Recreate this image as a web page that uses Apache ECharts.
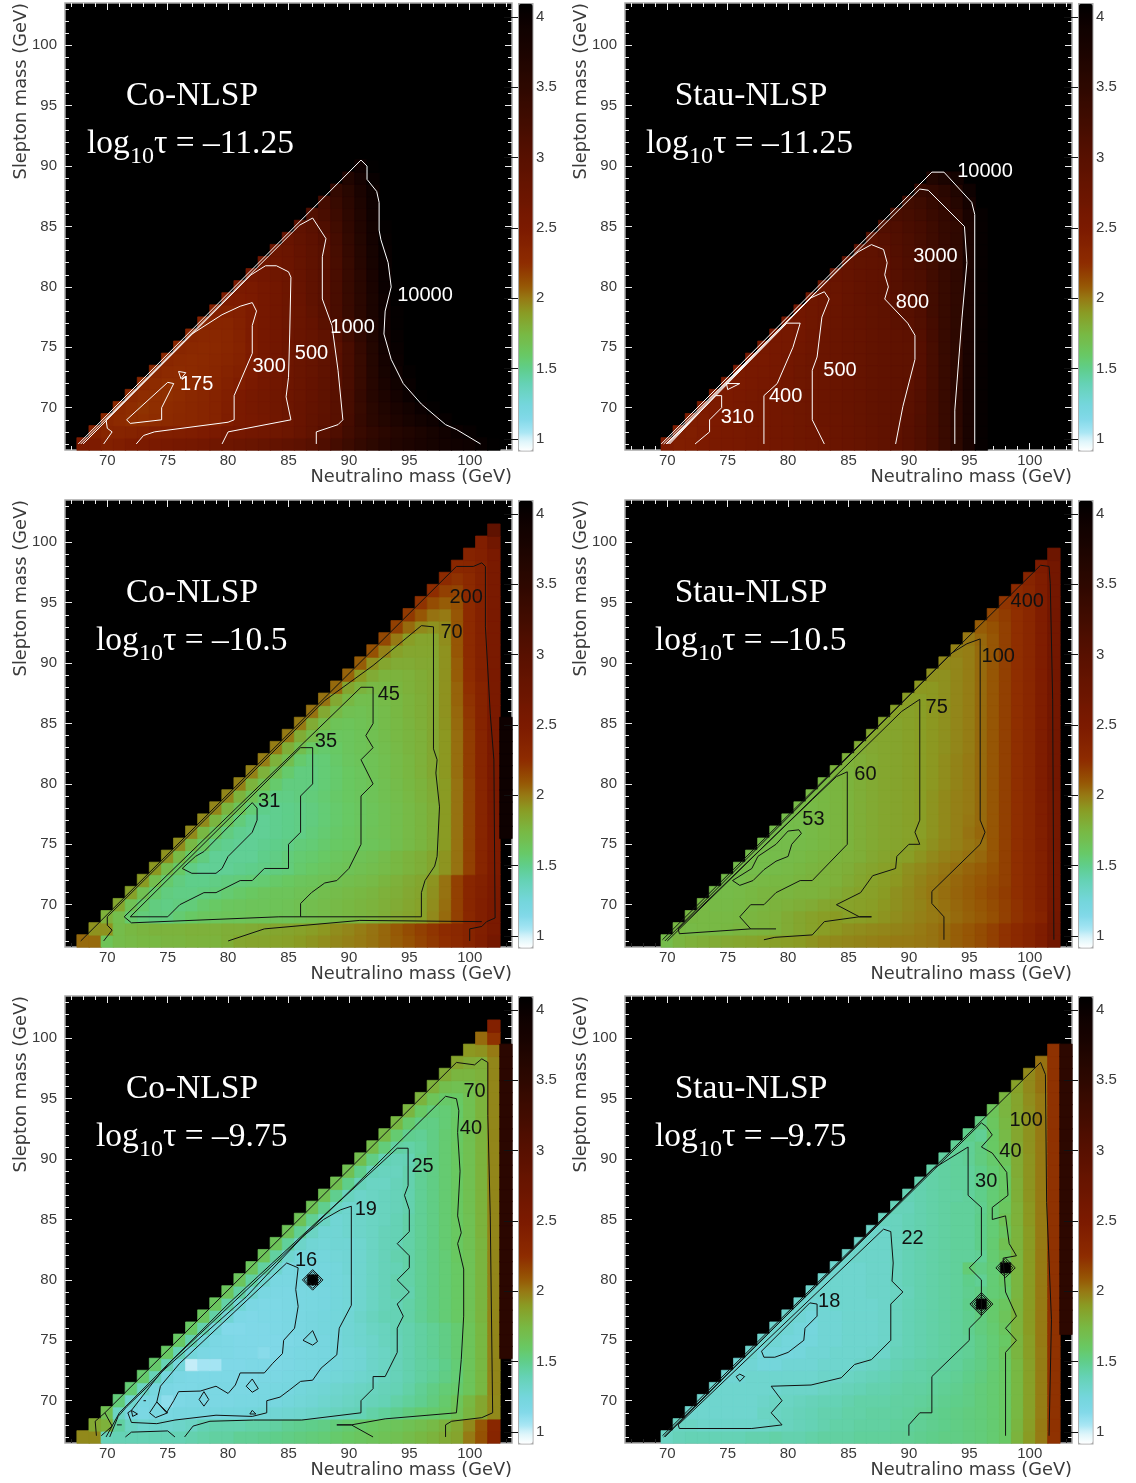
<!DOCTYPE html>
<html><head><meta charset="utf-8">
<script src="https://cdn.jsdelivr.net/npm/echarts@6/dist/echarts.min.js"></script>
<style>html,body{margin:0;background:#fff}#c{width:1136px;height:1483px}</style></head>
<body><div id="c"></div>
<script>
// value of each cell; row i is slepton mass 67+i; a row starts at neutralino mass = slepton + 1 (Co) or + 3 (Stau)
const co1125Rows=[
[300,300,260,280,300,320,340,360,380,400,420,460,500,540,580,640,700,760,840,1000,1300,1700,2200,2800,3400,4000,4800,5500,6200,6800,7400,8200,9000,10500,12000],
[250,220,230,240,250,260,270,280,290,300,340,380,400,420,450,480,520,620,750,1000,1300,1800,2400,3000,3600,4300,5000,5800,6800,8000,9500,11000],
[210,190,175,175,180,190,200,210,220,240,290,330,360,400,450,510,600,720,850,1000,1700,2600,3600,4500,5500,6500,7800,9000,11000],
[195,180,170,175,185,195,205,220,240,280,330,370,410,460,520,600,700,830,1000,1600,2500,3800,5000,6200,7500,9500,11500],
[195,180,175,175,185,200,215,235,270,320,370,410,460,510,590,690,820,1000,1600,2600,4000,5500,7200,9500,12000],
[200,185,175,180,190,205,225,255,290,340,400,450,505,590,680,810,1000,1500,2500,4000,6000,8000,10500],
[205,190,185,190,200,215,235,265,300,390,445,500,580,670,800,1000,1500,2500,4200,6500,9000,11500],
[210,195,190,195,205,220,245,300,380,440,500,580,670,800,1000,1500,2500,4300,7000,10000],
[215,200,195,200,215,240,295,380,440,500,580,670,790,950,1500,2600,4500,7500,10500],
[225,210,205,215,245,300,380,440,500,580,670,800,1100,1800,3000,5000,8000,11000],
[240,225,225,255,300,380,440,500,580,680,950,1400,2200,3400,5500,8500,11500],
[260,250,265,300,380,440,500,590,750,1000,1500,2400,3600,5800,9000,11500],
[300,300,320,380,440,500,600,800,1000,1500,2400,3600,5800,9000,12000],
[330,340,390,440,500,620,800,1000,1500,2500,3800,6000,9500,12000],
[400,420,470,510,640,800,1000,1500,2500,3800,6200,9500],
[480,490,540,660,800,1000,1500,2500,4000,6500,10000],
[520,560,680,820,1000,1600,2600,4200,6800,10500],
[600,720,850,1100,1700,2800,4500,7200,11000],
[780,950,1300,1900,3000,4800,7500,11500],
[1200,1500,2100,3200,5000,8000],
[1700,2400,3500,5500,8500],
[2800,3900,6000,9000],
[5000,7000,10500],
[8500,12000]];
const stau1125Rows=[
[300,280,290,310,330,345,355,380,400,420,445,470,490,510,560,600,650,700,770,850,1000,1200,1600,2300,3400,6000,11000],
[290,280,300,325,345,360,380,400,420,445,470,490,515,560,600,650,700,760,830,1000,1200,1600,2300,3400,6000,11000],
[290,295,315,340,360,380,400,420,445,470,500,540,570,610,660,710,770,830,980,1200,1600,2400,3500,6000,11000],
[300,310,335,355,380,400,425,450,475,500,540,580,620,670,720,780,800,950,1150,1600,2400,3500,6000,11000],
[310,320,345,370,395,415,445,480,500,540,580,620,670,720,770,800,930,1150,1600,2400,3500,6000,11000],
[320,335,360,380,400,440,480,500,540,580,620,670,720,760,790,850,1100,1600,2400,3500,6000,11000],
[340,355,370,390,430,475,500,540,580,620,670,720,760,790,830,1100,1600,2400,3300,6000,11000],
[355,365,385,420,465,505,545,585,625,670,720,760,790,810,1100,1600,2400,3300,6000,11000],
[370,380,405,450,495,545,590,630,675,720,760,790,810,1100,1600,2500,3300,6000,11000],
[390,400,440,485,540,590,630,675,720,770,800,850,1150,1700,2500,3300,6000,11000],
[400,420,470,530,590,640,685,730,790,900,1000,1200,1700,2500,3200,6000,11000],
[440,470,510,580,640,690,740,820,950,1050,1250,1800,2500,3200,6000,11000],
[470,500,570,640,700,770,800,1000,1100,1300,1800,2500,3100,6000,11000],
[530,580,650,700,770,830,1050,1200,1350,1800,2500,3100,6000,11000],
[600,660,720,770,800,1050,1250,1400,1900,2500,3100,6000,11000],
[690,740,780,820,1100,1300,1500,1900,2600,3100,6000,11000],
[770,800,950,1150,1350,1600,2000,2600,3100,6000,11000],
[950,1050,1200,1400,1650,2050,2600,3100,6000,11000],
[1200,1300,1500,1700,2100,2700,3000,6000,11000],
[1500,1650,1900,2300,2800,3400,6000,11000],
[1900,2100,2600,3100,4200,7000],
[2700,3000,3600,5000,9000],
[5000,5800,7500]];
const co105Rows=[
[110,110,45,52,54,56,56,58,58,60,60,60,64,70,72,72,74,76,80,84,88,92,96,100,105,112,120,130,145,160,175,195,230,280,400],
[85,85,52,56,58,60,60,60,62,62,62,64,64,66,68,70,72,74,78,82,88,92,98,104,112,122,135,150,165,185,200,230,270,340],
[62,50,38,35,34,34,37,40,42,43,44,44,45,45,46,46,48,50,52,54,56,58,60,64,68,72,76,90,110,150,210,270,340],
[70,46,38,34,33,34,35,38,40,42,43,44,44,45,46,48,50,52,54,56,58,60,63,66,70,74,88,108,150,215,270,330],
[75,48,38,34,33,33,34,35,37,39,41,43,44,44,46,47,50,52,54,56,58,62,64,68,72,86,105,150,215,260,320],
[80,50,38,34,32,32,33,34,35,36,37,39,41,43,44,46,48,50,52,54,58,62,66,70,84,105,150,215,255,310],
[82,52,40,33,30,30,30,31,32,33,34,35,38,40,42,44,46,48,50,53,56,60,64,70,84,105,150,220,300],
[85,54,40,34,30,30,30,30,32,33,35,37,38,40,42,44,46,48,52,56,60,64,70,84,105,150,220,300],
[88,55,42,33,31,30,30,31,32,33,35,36,38,40,41,43,44,46,50,54,58,64,80,105,150,225,300],
[90,56,42,34,31,30,30,31,32,33,35,37,39,41,43,45,47,50,54,58,64,80,105,150,225,310],
[90,58,44,35,31,30,31,32,33,34,36,38,40,42,44,47,50,54,58,64,80,105,150,225,320],
[92,58,45,36,32,31,32,33,34,36,38,40,42,44,47,50,54,58,64,80,105,150,225,330],
[92,60,46,38,33,33,34,35,37,39,41,43,45,48,51,55,60,65,80,105,150,225,340],
[95,60,48,38,34,34,34,36,38,41,43,45,48,52,56,60,66,80,105,150,225,340],
[95,62,48,38,34,34,36,38,41,43,46,49,53,57,62,68,82,108,155,230,340],
[98,62,50,38,35,36,39,42,44,46,49,53,57,62,68,82,108,155,230,340],
[98,64,50,40,38,40,43,45,47,50,54,58,62,68,82,108,155,230,340],
[100,65,52,43,42,43,45,48,51,55,58,62,68,82,108,155,230,340],
[100,66,52,45,44,46,48,52,55,59,63,68,84,110,160,235,340],
[105,68,54,48,47,49,52,56,60,64,68,85,112,165,240,340],
[105,68,56,50,50,53,56,60,64,68,85,115,170,240,330],
[110,70,60,55,55,58,62,65,68,85,115,175,240,330],
[115,80,66,60,60,62,65,68,85,120,180,250,330],
[120,85,70,66,66,68,68,85,120,185,250,330],
[130,95,75,70,70,70,85,125,190,250,330],
[140,100,78,72,72,88,125,190,250,330],
[150,110,90,85,90,125,190,250,330],
[160,125,105,100,125,190,250,330],
[170,135,120,130,190,250,330],
[180,150,145,190,250,330],
[190,170,195,250,330],
[210,215,255,330],
[240,260,340],
[280,450],
[800]];
const stau105Rows=[
[52,58,62,64,66,68,70,72,74,76,78,80,84,88,90,92,94,96,98,100,100,102,104,110,118,125,135,150,170,195,230,290,450],
[56,54,55,55,56,58,59,60,62,66,70,74,78,82,86,88,90,92,94,96,100,104,110,118,125,135,150,170,195,230,290,450],
[56,55,55,55,56,58,60,62,66,70,74,78,80,76,78,80,84,88,92,96,100,104,110,116,122,132,150,170,195,240,420],
[55,54,54,55,57,58,60,62,64,66,70,72,74,76,78,82,86,90,94,100,106,112,118,125,135,150,170,200,250,400],
[53,53,54,56,58,58,58,60,60,62,66,70,74,76,80,86,90,96,102,108,114,120,128,140,155,175,205,260,400],
[52,52,54,55,56,56,58,60,60,62,66,70,74,78,82,88,94,100,106,112,118,125,135,150,175,205,260,400],
[52,52,52,53,54,56,58,60,62,64,68,72,76,80,86,90,96,102,108,114,120,130,150,175,205,260,400],
[52,52,52,53,54,56,58,60,62,64,68,72,75,78,84,90,96,100,106,112,125,150,175,205,265,400],
[52,52,52,53,54,56,58,60,64,67,70,72,75,80,86,92,96,102,108,125,150,175,205,270,400],
[52,51,52,54,56,58,60,64,67,70,72,74,78,84,90,96,104,112,125,150,175,205,275,400],
[52,52,54,56,58,60,64,67,70,72,75,78,84,90,96,102,110,125,150,175,205,280,400],
[54,54,56,58,60,64,67,70,72,75,78,84,90,96,100,110,125,150,175,205,285,400],
[55,56,58,60,64,67,70,72,75,78,84,90,96,100,110,125,150,175,205,290,400],
[56,58,60,64,67,70,72,75,78,82,88,94,100,110,125,150,175,205,290,420],
[60,60,64,67,70,72,75,78,82,88,94,100,110,125,150,175,205,290,430],
[62,64,67,70,72,75,78,82,88,94,100,110,125,150,175,205,290,430],
[66,68,70,72,75,78,82,86,92,98,110,125,150,175,205,290,430],
[70,70,72,75,78,82,86,92,98,110,125,150,175,205,290,430],
[72,72,75,78,82,86,92,98,110,125,150,175,205,290,430],
[75,75,78,82,86,92,98,110,125,150,175,205,290,430],
[78,78,82,86,92,98,110,125,150,175,205,290,430],
[82,82,86,92,98,110,125,150,175,205,290,430],
[86,86,92,98,110,125,150,175,205,290,430],
[90,92,98,110,125,150,175,205,290,430],
[95,98,110,125,150,175,205,290,430],
[102,112,125,150,175,205,290,430],
[120,130,150,175,205,290,430],
[140,155,175,205,290,430],
[165,180,210,290,430],
[190,215,290,430],
[230,290,430],
[300,430],
[500]];
const co975Rows=[
[90,90,24,25,25,25,25,25,25,26,27,28,28,30,30,31,32,33,34,35,36,38,40,42,44,46,48,52,56,60,66,72,100,130,220],
[68,62,28,22,20,20,20,21,22,25,26,26,26,27,27,28,30,31,32,33,35,37,39,41,43,44,47,50,54,60,68,90,125,210],
[48,22,17,15.5,16,16,17,17,17,17,17.5,17.5,18,18.5,19,19.5,20,21,22,23,24,25,27,29,31,34,37,38,40,46,58,70,90],
[35,20,16,15.5,13,15,15.5,15.5,15.5,15.5,16,16,16.5,17,18,18.5,19,20,21,22,23,24,25,27,29,31,34,38,44,56,70,90],
[36,22,17,15.5,15,15,15.5,15.5,15.5,15.5,15.5,16,16.5,17,18,18.5,19,20,21,22,23,24,25,27,30,33,36,38,44,56,92],
[38,24,17.5,15.5,15,15,15,15,15,15,15.5,15.5,16,16.5,17,18,18.5,19,20,21,23,24,26,28,30,33,36,44,56,92],
[38,25,18,10.5,11.5,11.5,14.5,14.5,15,15,15,15.5,16,16.5,17,18,18.5,19,21,22,24,26,28,29,32,36,44,56,92],
[40,25,18,15.5,15,15,14.5,14.5,13.5,14.5,15.5,16,16.5,17,18,18.5,19,21,22,24,26,28,30,33,37,44,56,92],
[40,26,18,15.5,15,14.5,14.5,14.5,14.5,15,15.5,17,17,18,19,20,21,23,24,26,28,30,33,37,44,56,92],
[40,26,18,14,14,14.5,14.5,15,15.5,16,17,17.5,18,19,20,22,23,25,26,28,30,33,37,44,56,92],
[42,27,19,15,14.5,15,15,15.5,16,17,17.5,18,19,21,23,25,25,27,30,33,36,40,46,58,92],
[42,27,19,15.5,15,15,15.5,16,16.5,17,18,18.5,20,22,24,25,27,30,33,36,40,46,58,92],
[43,28,20,16,15.5,15.5,16,16.5,17,18,18.5,20,22,24,26,26,30,33,36,40,46,58,92],
[43,28,20,16,16,16.5,0,17.5,18,18.5,20,22,24,26,27,30,33,36,40,46,58,92],
[43,28,20,16.5,17,17,17.5,18,19,20,22,24,25,27,30,33,36,40,46,58,92],
[44,28,20,18,18,18,18.5,19,20,22,24,26,27,30,33,36,41,46,58,92],
[44,29,21,19,18.5,19,19,20,22,24,25,27,30,33,37,41,47,58,92],
[45,30,22,19,19,20,21,22,24,25,27,30,33,37,41,47,60,92],
[46,30,22,19,20,21,22,23,25,27,30,33,37,41,47,60,92],
[46,31,22,20,20.5,22,23,24,26,30,33,37,41,48,60,92],
[47,31,23,21,22,23,24,26,30,33,37,41,48,60,92],
[48,32,24,22,22,24,26,30,33,37,41,48,60,92],
[48,32,24,23,23,26,30,33,37,41,48,60,92],
[50,33,25,24,25,30,33,37,41,48,60,92],
[52,35,28,27,29,33,37,41,48,60,92],
[54,37,31,30,33,37,40,48,60,92],
[56,38,33,33,36,40,48,60,92],
[58,40,35,36,39,48,60,92],
[60,44,39,40,48,60,92],
[62,50,48,50,60,92],
[66,58,58,62,92],
[72,66,64,92],
[82,85,100],
[110,170],
[260]];
const stau975Rows=[
[22,24,25,25,25,25,25,26,26,27,26,26,27,28,28,28,29,29,29,29.5,30,31,32,33,33,34,35,37,40,60,80,100,170],
[22,22,21,21,21,21,21,21,22,23,24,25,26,27,27,28,28,28,29,29,30,31,32,33,34,35,37,40,58,78,100,170],
[20,20,20,20,20,20,22,22,23,24,25,26,26,27,27,28,28,28,29,30,31,32,33,34,35,37,40,56,76,98,170],
[20,20,20,20,20,21,22,22,23,24,25,25,26,27,27,27,28,28,29,30,31,32,33,35,37,40,56,76,98,170],
[20,20,20,20,20,20,21,21,21,22,23,24,25,26,26,27,28,28,29,30,31,33,35,37,40,56,76,98,170],
[19,19,20,20,20,20,20,20,21,21,22,23,24,25,26,27,27,28,29,30,32,34,37,40,56,76,98,170],
[19,19,18,18,19,19,19,20,20,20,21,22,23,25,26,27,28,28,29,31,33,36,40,56,76,98,170],
[20,18,18,17.5,18,19,19,20,20,20,21,21,24,25,26,27,28,29,30,33,36,42,58,78,98,170],
[20,19,18,17.5,18,19,19,20,20,20,21,23,25,26,27,28,29,30,33,36,40,58,78,100,170],
[20,19,18,17.5,19,19,20,20,20,21,23,25,26,27,28,29,31,34,37,42,60,80,100,170],
[20,19,18,19,19,20,20,20,21,23,25,26,27,28,29,31,34,38,44,60,80,100,170],
[20,19,19,20,20,20,20,21,23,25,26,27,28,29,32,0,38,42,60,80,100,170],
[20,20,20,20,20,21,21,22,24,26,27,28,29,31,33,36,38,58,80,100,170],
[20,20,20,20,21,21,23,25,26,27,28,29,32,30,36,40,58,80,100,170],
[20,20,20,21,21,23,25,26,27,28,29,36,33,36,0,58,80,100,170],
[21,21,21,21,23,25,26,27,28,29,29,30,37,42,58,80,100,170],
[21,21,21,23,25,26,27,28,29,29,32,37,48,60,80,100,170],
[21,21,23,25,26,27,28,29,29,32,36,42,60,80,100,170],
[23,23,25,26,27,28,29,29,32,36,46,62,82,100,170],
[24,24,26,27,28,29,29,31,36,42,62,82,100,170],
[25,26,27,28,28,29,32,36,40,64,84,100,170],
[26,27,28,29,29,32,36,40,64,84,100,170],
[27,28,29,29,32,36,40,66,84,100,170],
[28,29,30,34,38,44,66,84,100,170],
[30,30,34,40,50,68,85,100,170],
[32,30,40,54,70,85,100,170],
[34,42,56,70,85,100,170],
[44,58,72,86,100,170],
[58,72,88,100,170],
[75,90,105,170],
[90,105,170],
[105,170],
[170]];
// extra column at neutralino mass 103: [first slepton, last slepton, value]
const co105Edge=[76,85,9000];
const co975Edge=[74,99,3500];
const stau975Edge=[76,99,3300];

// contour lines [neutralino, slepton]
const co1125Lines=[
[[67.6,67],[91,90.5],[91.5,90],[91.5,88.9],[92.3,87.9],[92.5,87],[92.5,84.7],[92.65,83.9],[93.25,82],[93.5,80],[93,78],[92.9,76.1],[93.5,74],[94.5,72],[96,70.3],[98,68.6],[98.9,68.2],[100.9,67]],
[[67.8,67],[85.9,85.1],[87,85.7],[88.1,84],[87.8,82.5],[87.8,79],[88.6,76.8],[89.1,73.1],[89.5,69],[89.1,68.6],[87.3,68],[87.3,67]],
[[68,67],[81.9,81],[83.1,81.75],[84,81.75],[85,81.25],[85.2,80.8],[85.1,76.1],[85,72.5],[84.8,70.9],[85.2,69],[80,68],[79.5,67]],
[[69.7,67],[70.4,68],[70,68.3],[69.9,69],[77,76.1],[79.5,77.7],[81,78.4],[82,78.7],[82.35,78],[82,76.8],[82,74.5],[80.5,71],[80.5,69],[80,68.8],[73.9,68],[73,67.7],[72.4,67]],
[[75,72.1],[75.5,72],[74.5,70],[74.5,69],[71.9,68.7],[71.6,69],[75,72.1]],
[[75.9,73],[76.5,72.9],[76.1,72.4],[75.9,73]]];
const stau1125Lines=[
[[69.5,67],[91.9,89.5],[92.9,89.5],[95.2,87],[95.45,86],[95.45,67]],
[[69.7,67],[90.9,88.1],[91.6,88],[94.6,85],[94.8,82],[94.4,77.5],[93.8,69.8],[93.8,67]],
[[69.9,67],[84.4,81.7],[85.8,82.9],[86.9,83.5],[87.9,83.1],[88.2,82],[88,81],[88.3,80],[88,79],[89.9,77],[90.5,76],[90.5,74],[89.5,70.1],[88.9,67]],
[[70,67],[81.9,79.1],[83,79.6],[83.4,79],[82.8,77.5],[82.4,74.2],[82,73.1],[82,69],[83,67]],
[[70.1,67],[79.9,77],[81,77],[80.4,75],[79.1,72],[78,71],[78,67]],
[[70.2,67],[74,71],[74.5,71],[74.5,70],[73.5,69],[73.5,68],[72.3,67]],
[[74.9,72],[76,72],[75,71.5],[74.9,72]]];
const co105Lines=[
[[67.8,67],[98.9,98],[100.3,98],[101,98.3],[101.3,98],[101.3,93],[101.7,85.8],[102,82],[102.1,68.9],[101.4,68.6],[101,68.2],[100,68],[100,67]],
[[69.7,67],[70.4,67.9],[70,68.3],[70,69],[88,86.9],[92,89.8],[96,93.1],[97,93],[97,82.9],[97.3,82],[97.2,80.9],[97.5,78.1],[97.3,74],[97.1,73.2],[96.3,72],[96,71],[96,69],[86,69]],
[[91,88],[92,88],[92,85],[91.4,84],[92,83],[91,82],[92,80],[91,79],[91,75],[90,73],[89,72],[88,71.8],[86.9,71],[86,70.1],[86,69],[84.2,69],[72,68.5],[71.4,69],[91,88]],
[[71.9,69],[75,69],[76,70],[78,71],[79,71],[81,72],[82,72],[83,73],[85,73],[85,75],[86,76],[86,79],[87,80],[87,83],[86,83],[71.9,69]],
[[82,78.45],[82.4,78],[82.4,77],[82,76],[80,74],[79.5,73],[79,72.6],[77,72.6],[76.2,73],[77.3,74],[78,74.4],[82,78.45]],
[[80,67],[83,68],[90.9,68.7],[101,68.6]]];
const stau105Lines=[
[[69.6,67.1],[100.9,98.1],[101.6,98],[101.7,96.6],[101.9,87],[102,67.1]],
[[69.8,67],[93.5,90.8],[94.8,91.6],[95.9,92],[95.9,77],[96.3,76],[95.9,75],[91.9,71.1],[91.9,70.1],[92.9,69],[92.9,67.1]],
[[70,67],[89.4,86],[90.9,87],[90.9,77],[90.5,76],[90.9,75],[90,75],[89,74],[88.9,73],[87,72.4],[86,71],[84,70],[85.9,69],[86.9,69],[85.9,69],[83,68.6],[82,67.5],[78.9,67.3],[78,67.1]],
[[71,67.6],[70.9,68],[82,78.7],[84,80.6],[84.9,81],[84.9,75],[82,72],[81,72],[79,71],[78,70],[76.9,70],[76,69],[76.9,68],[71,67.6]],
[[76.9,68],[79,68]],
[[80,76.1],[80.9,76.2],[81.1,75.9],[80.3,75],[80,74],[79,73.6],[78,72.9],[77.1,72],[76,71.6],[75.4,72],[77,73],[77.5,74],[79,75],[80,76.1]]];
const co975Lines=[
[[69.1,67.1],[69,68.3],[69.8,69],[70.4,67.9],[69.5,67.1]],
[[69.8,69],[98.9,98],[100.4,97.8],[101,98.3],[101.5,98],[101.5,93.6],[101.7,85.3],[101.9,69],[101,68.6],[98.5,68.3],[98,68],[98,67]],
[[69.9,67],[71,69],[80,78],[89.4,86.7],[98,95.2],[98.9,95],[99.1,94],[99,92.2],[99.2,89],[99,85.3],[99.3,83.9],[99,83],[99.5,80.9],[99.5,77],[99.3,73.4],[98.9,69],[93,68.5],[90.2,68],[89,68],[90.2,68],[92,67]],
[[70.2,67],[70.9,68.7],[71.6,69.5],[74.1,71.9],[75.2,73.2],[84,81.5],[89,86.3],[94,90.9],[94.9,90.9],[94.9,87.8],[94.6,87],[95,85.8],[95,84],[94,83],[95,82],[95,81],[94,80],[95,79],[94,78],[94.5,77],[94,76],[94,74],[93,72],[92,72],[92,71],[91,70],[91,69],[86.1,68.4],[82.1,68.4],[78.5,68.3],[77.1,67.9],[76.4,67]],
[[90.2,86.1],[89.3,85.8],[87.9,85],[86.2,83.6],[81.5,78.6],[74.4,72.3],[72,69.2],[71.7,69],[72,68.2],[74.1,68.1],[75.6,68.4],[79,68.8],[82,68.7],[83.2,69],[83.2,70],[84.3,70.3],[85.1,70.9],[86,71.6],[87,71.7],[87.7,72.7],[89,73.8],[89.2,76],[90.2,77.9],[90.2,86.1]],
[[84.85,81.4],[85.8,81],[85.6,79.2],[85.8,77.8],[85.5,76],[84.6,75],[84.5,73.9],[83.7,73.1],[83,72.3],[81,72.3],[80.6,71.3],[80,70.6],[79,71.2],[77.7,70.8],[75.9,70.75],[75.5,70],[74.9,69],[74.1,69.9],[74.4,71.2],[76,73.1],[84.85,81.4]],
[[73.5,69],[74.1,69.9],[75,69],[74,68.6],[73.5,69]],
[[78,70.75],[78.4,70.1],[78,69.55],[77.6,70.1],[78,70.75]],
[[82,71.8],[82.5,71],[82,70.7],[81.5,71.2],[82,71.8]],
[[82,69.2],[82.3,68.9],[81.8,68.9],[82,69.2]],
[[87,75.8],[87.4,74.9],[87,74.6],[86.2,75],[87,75.8]],
[[72,69.2],[72.5,68.9],[72.1,68.7],[72,69.2]],
[[70.8,68],[71.2,68]],
[[73,70],[73.2,70]],
[[71.5,67],[72,67.4],[75,67.5],[75.6,67]],
[[86.5,80],[87,80.5],[87.5,80],[87,79.5],[86.5,80]],
[[86.3,80],[87,80.7],[87.7,80],[87,79.3],[86.3,80]],
[[86.15,80],[87,80.85],[87.85,80],[87,79.15],[86.15,80]]];
const stau975Lines=[
[[69.6,67.1],[100.9,98],[101.3,97],[101.4,86.4],[101.8,76.7],[101.6,67.1]],
[[69.7,67],[96,93],[96.4,92.7],[96.9,92],[96,91],[96.9,90.5],[98.1,88.9],[98.2,87],[96.9,86],[96.9,85],[98,85.3],[98.3,83],[98.9,82],[97.8,81.8],[98,79],[98.9,77],[98,76],[98.9,75],[98,74],[98,67.1]],
[[69.8,67],[92,89.2],[94.9,91],[94.9,87],[96,86],[96,82],[95,81],[96,80],[96,79],[96,77],[95,76],[95,75],[91.9,72],[91.9,69],[90.9,69],[90,68],[90,67.1]],
[[87.9,84.2],[88.5,84],[88.7,81.4],[88.6,79.9],[89.5,79],[88.5,78],[88.5,75],[86.9,73.4],[85.5,73],[84.4,71.9],[81.9,71.3],[78.6,71.2],[79.5,70],[78.6,69],[79.5,68],[77,67.7],[71,67.7],[70.9,68],[87.9,84.2]],
[[81.8,78.1],[82.4,78],[82.4,77],[81.4,76],[81.3,75],[80,74],[78.9,73.6],[78,73.6],[77.8,74.1],[81.8,78.1]],
[[75.7,72],[76,72.2],[76.4,72],[76,71.6],[75.7,72]],
[[95.4,78],[96,78.6],[96.6,78],[96,77.4],[95.4,78]],
[[95.2,78],[96,78.8],[96.8,78],[96,77.2],[95.2,78]],
[[95.05,78],[96,78.95],[96.95,78],[96,77.05],[95.05,78]],
[[97.4,81],[98,81.6],[98.6,81],[98,80.4],[97.4,81]],
[[97.2,81],[98,81.8],[98.8,81],[98,80.2],[97.2,81]]];
// contour labels [neutralino, slepton, text]
const co1125Labels=[[96.3,79.4,'10000'],[90.3,76.7,'1000'],[86.9,74.6,'500'],[83.4,73.5,'300'],[77.4,72,'175']];
const stau1125Labels=[[96.3,89.6,'10000'],[92.2,82.6,'3000'],[90.3,78.8,'800'],[84.3,73.2,'500'],[79.8,71,'400'],[75.8,69.3,'310']];
const co105Labels=[[99.7,95.5,'200'],[98.5,92.6,'70'],[93.3,87.5,'45'],[88.1,83.6,'35'],[83.4,78.6,'31']];
const stau105Labels=[[99.8,95.2,'400'],[97.4,90.6,'100'],[92.3,86.4,'75'],[86.4,80.9,'60'],[82.1,77.1,'53']];
const co975Labels=[[100.4,95.7,'70'],[100.1,92.6,'40'],[96.1,89.5,'25'],[91.4,85.95,'19'],[86.45,81.7,'16']];
const stau975Labels=[[99.7,93.3,'100'],[98.4,90.7,'40'],[96.4,88.2,'30'],[90.3,83.5,'22'],[83.4,78.3,'18']];

const majorTicks=[70,75,80,85,90,95,100];
const minorTicks=[67,68,69,70,71,72,73,74,75,76,77,78,79,80,81,82,83,84,85,86,87,88,89,90,91,92,93,94,95,96,97,98,99,100,101,102,103];
const massCategories=minorTicks.map(String);
const barTicks=[1,1.5,2,2.5,3,3.5,4];
const colorStops=[[0.92,'#ffffff'],[1.0,'#d8f3fa'],[1.05,'#a8e6f4'],[1.15,'#80d8e8'],[1.25,'#74d6dc'],[1.4,'#65d2b4'],[1.5,'#5fce8c'],[1.6,'#68c964'],[1.75,'#79b843'],[1.9,'#8a9c24'],[2.0,'#967a14'],[2.1,'#965404'],[2.25,'#8e2c00'],[2.5,'#7c1a00'],[3,'#581000'],[3.5,'#2e0800'],[4,'#0a0000'],[4.1,'#000000']];

const panels=[
{rows:co1125Rows,shift:1,lines:co1125Lines,labels:co1125Labels,left:65,top:3,ink:'#ffffff',bottomTick:'#eeeeee',title:'Co-NLSP',tau:'τ = –11.25',logX:87},
{rows:stau1125Rows,shift:3,lines:stau1125Lines,labels:stau1125Labels,left:625,top:3,ink:'#ffffff',bottomTick:'#eeeeee',title:'Stau-NLSP',tau:'τ = –11.25',logX:646},
{rows:co105Rows,shift:1,edge:co105Edge,lines:co105Lines,labels:co105Labels,left:65,top:500,ink:'#111111',bottomTick:'#222222',title:'Co-NLSP',tau:'τ = –10.5',logX:96},
{rows:stau105Rows,shift:3,lines:stau105Lines,labels:stau105Labels,left:625,top:500,ink:'#111111',bottomTick:'#222222',title:'Stau-NLSP',tau:'τ = –10.5',logX:655},
{rows:co975Rows,shift:1,edge:co975Edge,lines:co975Lines,labels:co975Labels,left:65,top:996,ink:'#111111',bottomTick:'#222222',title:'Co-NLSP',tau:'τ = –9.75',logX:96},
{rows:stau975Rows,shift:3,edge:stau975Edge,lines:stau975Lines,labels:stau975Labels,left:625,top:996,ink:'#111111',bottomTick:'#222222',title:'Stau-NLSP',tau:'τ = –9.75',logX:655}
];

function hex(c){return [1,3,5].map(i=>parseInt(c.substr(i,2),16));}
function colorAt(v){
  for(let i=1;i<colorStops.length;i++){
    if(v<=colorStops[i][0]){
      const [a,ca]=colorStops[i-1],[b,cb]=colorStops[i],t=(v-a)/(b-a),p=hex(ca),q=hex(cb);
      return 'rgb('+p.map((u,k)=>Math.round(u+(q[k]-u)*t)).join(',')+')';
    }
  }
  return '#000';
}
const scaleMin=0.92,scaleMax=4.1;
const ramp=[];for(let i=0;i<=212;i++)ramp.push(colorAt(scaleMin+(scaleMax-scaleMin)*i/212));

const size=447,frame='#a8a8a8',numFont='"Liberation Sans"',nameFont='"DejaVu Sans"',textCol='#3a3a3a';
const grid=[],xAxis=[],yAxis=[],series=[],visualMap=[],graphic=[];
function ticks(dim,g,pos,vals,len,col){
  return {type:'value',gridIndex:g,min:66.5,max:103.5,position:pos,axisLine:{show:false},splitLine:{show:false},
    axisTick:{show:true,inside:true,length:len,customValues:vals,lineStyle:{color:col,width:1}},axisLabel:{show:false}};
}
const heatmaps=[];
panels.forEach((p,g)=>{
  grid.push({left:p.left,top:p.top,width:size,height:size,show:true,backgroundColor:'#000',borderColor:frame,borderWidth:1.5,outerBoundsMode:'none'});
  const xb=xAxis.length,yb=yAxis.length;
  xAxis.push({type:'category',gridIndex:g,data:massCategories,show:false});
  yAxis.push({type:'category',gridIndex:g,data:massCategories,show:false});
  const xm=ticks('x',g,'bottom',majorTicks,7,p.bottomTick);
  xm.axisLabel={show:true,customValues:majorTicks,margin:3,color:textCol,fontFamily:numFont,fontSize:15,formatter:v=>String(v)};
  xm.name='Neutralino mass (GeV)';xm.nameLocation='end';xm.nameGap=0;xm.nameMoveOverlap=false;
  xm.nameTextStyle={align:'right',verticalAlign:'top',padding:[18,0,0,0],color:textCol,fontFamily:nameFont,fontSize:17.8};
  const ym=ticks('y',g,'left',majorTicks,7,'#eeeeee');
  ym.axisLabel={show:true,customValues:majorTicks,margin:8,padding:[4,0,0,0],color:textCol,fontFamily:numFont,fontSize:15,formatter:v=>String(v)};
  ym.name='Slepton mass (GeV)';ym.nameLocation='end';ym.nameGap=0;ym.nameRotate=90;ym.nameMoveOverlap=false;
  ym.nameTextStyle={align:'right',verticalAlign:'bottom',padding:[0,0,35,0],color:textCol,fontFamily:nameFont,fontSize:17.8};
  xAxis.push(xm,ticks('x',g,'bottom',minorTicks,4,p.bottomTick),ticks('x',g,'top',majorTicks,7,'#eeeeee'),ticks('x',g,'top',minorTicks,4,'#eeeeee'));
  yAxis.push(ym,ticks('y',g,'left',minorTicks,4,'#eeeeee'),ticks('y',g,'right',majorTicks,7,'#eeeeee'),ticks('y',g,'right',minorTicks,4,'#eeeeee'));
  const cells=[];
  const addCell=(cx,cy,v)=>{const z=Math.log10(v);cells.push({value:[cx,cy,z],itemStyle:{borderColor:colorAt(z),borderWidth:0.7}});};
  p.rows.forEach((row,i)=>{const y=67+i;row.forEach((v,j)=>{if(v>0)addCell(y+p.shift+j-67,i,v);});});
  if(p.edge){for(let y=p.edge[0];y<=p.edge[1];y++)addCell(36,y-67,p.edge[2]);}
  heatmaps.push({type:'heatmap',xAxisIndex:xb,yAxisIndex:yb,data:cells,silent:true,progressive:0,emphasis:{disabled:true},label:{show:false}});
  p.xv=xb+1;p.yv=yb+1;
});
series.push(...heatmaps);
panels.forEach((p,g)=>{
  p.lines.forEach(line=>series.push({type:'line',xAxisIndex:p.xv,yAxisIndex:p.yv,data:line,symbol:'none',silent:true,z:5,
    lineStyle:{color:p.ink,width:1},emphasis:{disabled:true}}));
  series.push({type:'scatter',xAxisIndex:p.xv,yAxisIndex:p.yv,symbolSize:1,itemStyle:{color:'rgba(0,0,0,0)',opacity:1},silent:true,z:6,
    data:p.labels.map(a=>({value:[a[0],a[1]],name:a[2]})),
    label:{show:true,position:'inside',offset:[0,1],formatter:'{b}',color:p.ink,opacity:1,fontFamily:numFont,fontSize:20}});
  // colour bar
  const bg=grid.length;
  grid.push({left:p.left+453,top:p.top,width:14,height:size,show:false,outerBoundsMode:'none'});
  xAxis.push({type:'value',gridIndex:bg,show:false,min:0,max:1});
  yAxis.push({type:'value',gridIndex:bg,min:scaleMin,max:scaleMax,position:'right',z:8,axisLine:{show:false},splitLine:{show:false},
    axisTick:{show:true,inside:true,length:14,customValues:barTicks,lineStyle:{color:'#111',width:1}},
    axisLabel:{show:true,customValues:barTicks,margin:4,padding:[4,0,0,0],color:textCol,fontFamily:numFont,fontSize:15,formatter:v=>String(v)}});
  visualMap.push({type:'continuous',seriesIndex:g,dimension:2,min:scaleMin,max:scaleMax,left:p.left+453,top:p.top,itemWidth:14,itemHeight:size,
    padding:0,calculable:false,hoverLink:false,realtime:false,text:null,inRange:{color:ramp},borderColor:frame,borderWidth:1.5,z:4});
  // annotations
  const serif='"Liberation Serif"';
  const col='#ffffff';
  const cx=p.left+(p.title==='Co-NLSP'?127:126);
  graphic.push({type:'text',z:20,style:{text:p.title,x:cx,y:p.top+93,align:'center',verticalAlign:'middle',fill:col,font:'33.5px '+serif}});
  graphic.push({type:'text',z:20,style:{text:'log',x:p.logX,y:p.top+141,align:'left',verticalAlign:'middle',fill:col,font:'33.5px '+serif}});
  graphic.push({type:'text',z:20,style:{text:'10',x:p.logX+43,y:p.top+154,align:'left',verticalAlign:'middle',fill:col,font:'24px '+serif}});
  graphic.push({type:'text',z:20,style:{text:p.tau,x:p.logX+67,y:p.top+141,align:'left',verticalAlign:'middle',fill:col,font:'33.5px '+serif}});
});
const chart=echarts.init(document.getElementById('c'),null,{renderer:'canvas',width:1136,height:1483});
chart.setOption({animation:false,backgroundColor:'#ffffff',tooltip:{show:false},grid,xAxis,yAxis,visualMap,series,graphic});
</script></body></html>
